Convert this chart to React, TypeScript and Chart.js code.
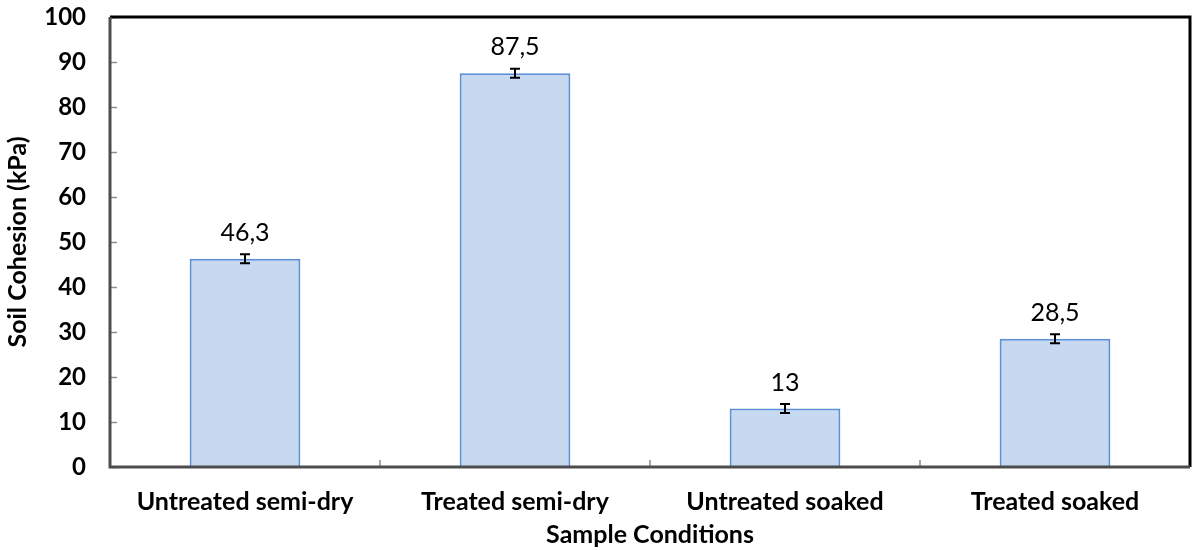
import React, { useEffect, useRef } from "react";
import { Chart, registerables } from "chart.js";

Chart.register(...registerables);

const categories = ["Untreated semi-dry", "Treated semi-dry", "Untreated soaked", "Treated soaked"];
const cohesion = [46.3, 87.5, 13, 28.5];
const errors = [1, 1, 1, 1];
const yTicks = [0, 10, 20, 30, 40, 50, 60, 70, 80, 90, 100];

const FONT = "Lato, 'Open Sans', sans-serif";

const framePlugin = {
  id: "frame",
  afterDatasetsDraw(chart: any) {
    const { ctx, chartArea: a, scales } = chart;
    const y = scales.y;
    const x = scales.x;
    ctx.save();
    ctx.strokeStyle = "#8c8c8c";
    ctx.lineWidth = 1.5;
    yTicks.forEach((v) => {
      const py = Math.round(y.getPixelForValue(v)) + 0.5;
      ctx.beginPath();
      ctx.moveTo(a.left, py);
      ctx.lineTo(a.left + 7, py);
      ctx.stroke();
    });
    for (let i = 1; i < categories.length; i++) {
      const px = (x.getPixelForValue(i - 1) + x.getPixelForValue(i)) / 2;
      ctx.beginPath();
      ctx.moveTo(px, a.bottom);
      ctx.lineTo(px, a.bottom - 7);
      ctx.stroke();
    }
    const meta = chart.getDatasetMeta(0);
    ctx.strokeStyle = "#000";
    ctx.lineWidth = 2;
    meta.data.forEach((bar: any, i: number) => {
      const top = y.getPixelForValue(cohesion[i] + errors[i]);
      const bot = y.getPixelForValue(cohesion[i] - errors[i]);
      const cx = bar.x;
      ctx.beginPath();
      ctx.moveTo(cx, top);
      ctx.lineTo(cx, bot);
      ctx.moveTo(cx - 5, top);
      ctx.lineTo(cx + 5, top);
      ctx.moveTo(cx - 5, bot);
      ctx.lineTo(cx + 5, bot);
      ctx.stroke();
    });
    ctx.fillStyle = "#000";
    ctx.font = `25px ${FONT}`;
    ctx.textAlign = "center";
    ctx.textBaseline = "middle";
    meta.data.forEach((bar: any, i: number) => {
      const top = y.getPixelForValue(cohesion[i]);
      ctx.fillText(String(cohesion[i]).replace(".", ","), bar.x, top - 26);
    });
    ctx.lineWidth = 3;
    ctx.strokeStyle = "#000";
    ctx.beginPath();
    ctx.moveTo(a.left, a.top);
    ctx.lineTo(a.right, a.top);
    ctx.lineTo(a.right, a.bottom);
    ctx.stroke();
    ctx.strokeStyle = "#4d4d4d";
    ctx.beginPath();
    ctx.moveTo(a.left, a.top);
    ctx.lineTo(a.left, a.bottom);
    ctx.lineTo(a.right, a.bottom);
    ctx.stroke();
    ctx.restore();
  },
};

export default function App() {
  const ref = useRef<HTMLCanvasElement>(null);
  useEffect(() => {
    document.body.style.margin = "0";
    const chart = new Chart(ref.current!, {
      type: "bar",
      data: {
        labels: categories,
        datasets: [
          {
            data: cohesion,
            backgroundColor: "#c6d9f1",
            borderColor: "#5b8fd6",
            borderWidth: 2,
            barPercentage: 0.41,
            categoryPercentage: 1,
          },
        ],
      },
      options: {
        animation: false,
        responsive: false,
        layout: { padding: { top: 17, right: 2, left: 0, bottom: 0 } },
        plugins: { legend: { display: false }, tooltip: { enabled: false } },
        scales: {
          y: {
            min: 0,
            max: 100,
            afterFit(s: any) {
              s.width = 110;
              s.paddingTop = 0;
              s.paddingBottom = 0;
            },
            ticks: {
              stepSize: 10,
              padding: 24,
              color: "#000",
              font: { family: FONT, size: 24, weight: "bold" },
            },
            grid: { display: false, drawTicks: false },
            border: { display: false },
            title: {
              display: true,
              text: "Soil Cohesion (kPa)",
              color: "#000",
              font: { family: FONT, size: 25, weight: "bold" },
              padding: { top: 3, bottom: 0 },
            },
          },
          x: {
            afterFit(s: any) {
              s.height = 83;
              s.paddingLeft = 0;
              s.paddingRight = 0;
            },
            ticks: {
              padding: 20,
              color: "#000",
              font: { family: FONT, size: 25, weight: "bold" },
            },
            grid: { display: false, drawTicks: false },
            border: { display: false },
            title: {
              display: true,
              text: "Sample Conditions",
              color: "#000",
              font: { family: FONT, size: 25, weight: "bold" },
              padding: { top: 4, bottom: 0 },
            },
          },
        },
      },
      plugins: [framePlugin],
    });
    return () => chart.destroy();
  }, []);
  return (
    <div style={{ position: "fixed", left: 0, top: 0, width: 1192, height: 550 }}>
      <canvas ref={ref} width={1192} height={550} style={{ width: 1192, height: 550 }} />
    </div>
  );
}
